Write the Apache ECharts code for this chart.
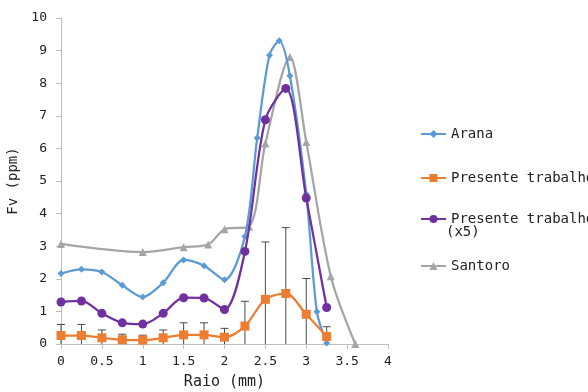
<!DOCTYPE html>
<html>
<head>
<meta charset="utf-8">
<script src="https://cdn.jsdelivr.net/npm/echarts@6/dist/echarts.min.js"></script>
<style>
  html, body { margin: 0; padding: 0; background: #fff; }
  #chart { width: 588px; height: 392px; }
</style>
</head>
<body>
<div id="chart"></div>
<script>
var FONT = '"DejaVu Sans Mono", monospace';

// Arana
var aranaX = [0, 0.25, 0.5, 0.75, 1, 1.25, 1.5, 1.75, 2, 2.25, 2.4, 2.55, 2.67, 2.8, 3.0, 3.13, 3.25];
var aranaY = [2.16, 2.29, 2.21, 1.8, 1.44, 1.88, 2.58, 2.4, 1.97, 3.3, 6.32, 8.86, 9.3, 8.23, 4.6, 0.99, 0.03];

// Presente trabalho (and x5)
var ptX = [0, 0.25, 0.5, 0.75, 1, 1.25, 1.5, 1.75, 2, 2.25, 2.5, 2.75, 3, 3.25];
var ptY = [0.26, 0.26, 0.19, 0.13, 0.12, 0.19, 0.28, 0.28, 0.21, 0.55, 1.37, 1.55, 0.91, 0.23];
var ptErr = [0.34, 0.34, 0.24, 0.17, 0.15, 0.24, 0.37, 0.37, 0.27, 0.76, 1.76, 2.02, 1.1, 0.3];
var pt5Y = [1.29, 1.32, 0.94, 0.65, 0.61, 0.94, 1.42, 1.41, 1.06, 2.84, 6.88, 7.84, 4.48, 1.12];

// Santoro
var santoroX = [0, 1, 1.5, 1.8, 2, 2.3, 2.5, 2.8, 3, 3.3, 3.6];
var santoroY = [3.07, 2.82, 2.97, 3.05, 3.52, 3.6, 6.15, 8.8, 6.2, 2.08, 0];

var xTicks = [0, 0.5, 1, 1.5, 2, 2.5, 3, 3.5, 4];

function pairs(xs, ys) {
  var out = [];
  for (var i = 0; i < xs.length; i++) {
    out.push([xs[i], ys[i]]);
  }
  return out;
}

var errData = [];
for (var i = 0; i < ptX.length; i++) {
  errData.push([ptX[i], Math.max(0, ptY[i] - ptErr[i]), ptY[i] + ptErr[i]]);
}

var chart = echarts.init(document.getElementById('chart'));

var textStyle = {
  fontFamily: FONT,
  fontSize: 14,
  lineHeight: 14,
  color: '#222'
};

function legendAt(name, top) {
  return {
    data: [name],
    orient: 'vertical',
    left: 415,
    top: top,
    itemWidth: 25,
    itemHeight: 10,
    itemGap: 0,
    formatter: function (n) { return n.replace(' (x5)', ''); },
    textStyle: textStyle
  };
}

var option = {
  animation: false,
  legend: [
    legendAt('Arana', 122),
    legendAt('Presente trabalho', 166),
    legendAt('Presente trabalho (x5)', 207),
    legendAt('Santoro', 254)
  ],
  graphic: [{
    type: 'text',
    left: 446,
    top: 225,
    style: {
      text: '(x5)',
      font: '14px ' + FONT,
      fill: '#222'
    }
  }],
  grid: {
    left: 61,
    right: 200,
    top: 18,
    bottom: 48,
    containLabel: false,
    outerBoundsMode: 'none'
  },
  xAxis: {
    type: 'value',
    min: 0,
    max: 4,
    interval: 0.5,
    name: 'Raio (mm)',
    nameLocation: 'middle',
    nameGap: 31,
    nameTextStyle: {
      fontFamily: FONT,
      fontSize: 15,
      color: '#222'
    },
    axisLine: {
      lineStyle: { color: '#bfbfbf', width: 1 }
    },
    axisTick: {
      show: true,
      length: 5,
      lineStyle: { color: '#bfbfbf' }
    },
    axisLabel: {
      fontFamily: FONT,
      fontSize: 13,
      color: '#222',
      margin: 11,
      formatter: function (v) { return xTicks.indexOf(v) >= 0 ? String(v) : ''; }
    },
    splitLine: { show: false }
  },
  yAxis: {
    type: 'value',
    min: 0,
    max: 10,
    interval: 1,
    name: 'Fv (ppm)',
    nameLocation: 'middle',
    nameGap: 37,
    nameTextStyle: {
      fontFamily: FONT,
      fontSize: 14,
      color: '#222'
    },
    axisLine: {
      show: true,
      lineStyle: { color: '#bfbfbf', width: 1 }
    },
    axisTick: {
      show: true,
      length: 5,
      lineStyle: { color: '#bfbfbf' }
    },
    axisLabel: {
      fontFamily: FONT,
      fontSize: 13,
      color: '#222',
      margin: 14
    },
    splitLine: { show: false }
  },
  series: [
    {
      name: 'errorbars',
      type: 'custom',
      z: 1,
      silent: true,
      renderItem: function (params, api) {
        var x = api.value(0);
        var lo = api.coord([x, api.value(1)]);
        var hi = api.coord([x, api.value(2)]);
        var style = { stroke: '#4a4a4a', lineWidth: 1 };
        return {
          type: 'group',
          children: [
            { type: 'line', shape: { x1: lo[0], y1: lo[1], x2: hi[0], y2: hi[1] }, style: style },
            { type: 'line', shape: { x1: hi[0] - 4, y1: hi[1], x2: hi[0] + 4, y2: hi[1] }, style: style }
          ]
        };
      },
      encode: { x: 0, y: [1, 2] },
      data: errData
    },
    {
      name: 'Santoro',
      type: 'line',
      z: 2,
      smooth: 0.3,
      symbol: 'triangle',
      symbolSize: 8,
      itemStyle: { color: '#a5a5a5' },
      lineStyle: { color: '#a5a5a5', width: 2.25 },
      data: pairs(santoroX, santoroY)
    },
    {
      name: 'Arana',
      type: 'line',
      z: 3,
      smooth: 0.3,
      symbol: 'diamond',
      symbolSize: 7,
      itemStyle: { color: '#5b9bd5' },
      lineStyle: { color: '#5b9bd5', width: 2.25 },
      data: pairs(aranaX, aranaY)
    },
    {
      name: 'Presente trabalho (x5)',
      type: 'line',
      z: 4,
      smooth: 0.3,
      symbol: 'circle',
      symbolSize: 9,
      itemStyle: { color: '#7030a0' },
      lineStyle: { color: '#7030a0', width: 2.25 },
      data: pairs(ptX, pt5Y)
    },
    {
      name: 'Presente trabalho',
      type: 'line',
      z: 5,
      smooth: 0.3,
      symbol: 'rect',
      symbolSize: 9,
      itemStyle: { color: '#ed7d31' },
      lineStyle: { color: '#ed7d31', width: 2.25 },
      data: pairs(ptX, ptY)
    }
  ]
};

chart.setOption(option);
</script>
</body>
</html>
